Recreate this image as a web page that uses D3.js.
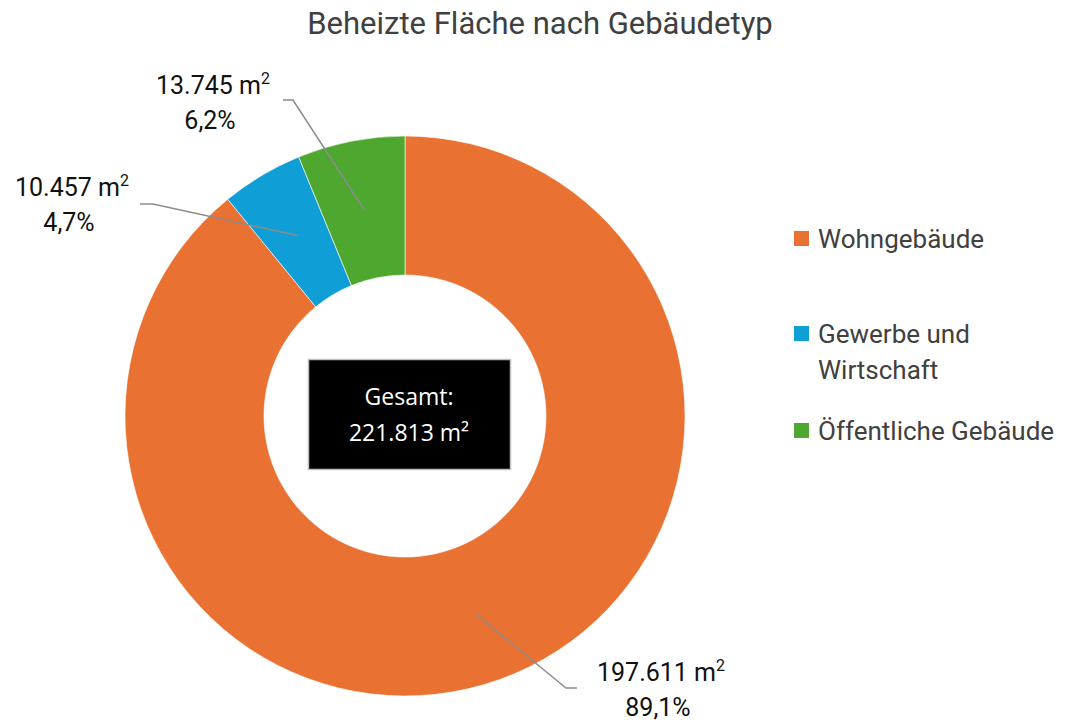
<!DOCTYPE html>
<head>
<meta charset="utf-8">
<script src="https://d3js.org/d3.v7.min.js"></script>
<style>
  body { margin: 0; background: #fff; }
  text { font-family: Roboto, "Liberation Sans", sans-serif; }
  text.title { font-size: 31px; fill: #404040; }
  text.dataLabel { font-size: 25px; fill: #111; }
  text.legend { font-size: 26px; fill: #404040; }
  text.total { font-family: "Open Sans", sans-serif; font-size: 23px; fill: #fff; }
</style>
</head>
<body>
<script>
// data
var categories = ['Wohngebäude', 'Gewerbe und Wirtschaft', 'Öffentliche Gebäude'];
var legendLines = [['Wohngebäude'], ['Gewerbe und', 'Wirtschaft'], ['Öffentliche Gebäude']];
var values = [197611, 10457, 13745];
var colours = ['#E97132', '#0F9ED5', '#4EA72E'];
var totalLabel = 'Gesamt:';

var width = 1072, height = 726;
var cx = 405, cy = 416, outerR = 280, innerR = 141, leaderR = 210;

var svg = d3.select('body').append('svg')
  .attr('width', width)
  .attr('height', height);

svg.append('text')
  .attr('class', 'title')
  .attr('x', 540)
  .attr('y', 34)
  .style('text-anchor', 'middle')
  .text('Beheizte Fläche nach Gebäudetyp');

var total = d3.sum(values);
var data = categories.map((c, i) => ({ name: c, value: values[i], colour: colours[i] }));

var pie = d3.pie().sort(null).value(d => d.value);
var arc = d3.arc().innerRadius(innerR).outerRadius(outerR);
var leaderArc = d3.arc().innerRadius(leaderR).outerRadius(leaderR);
var arcs = pie(data);

var g = svg.append('g').attr('transform', `translate(${cx},${cy})`);

g.selectAll('path.slice')
  .data(arcs)
  .enter()
  .append('path')
  .attr('class', 'slice')
  .attr('d', arc)
  .style('fill', d => d.data.colour)
  .style('stroke', '#fff')
  .style('stroke-width', 0.6);

var fmtNum = d3.formatLocale({ decimal: ',', thousands: '.', grouping: [3], currency: ['', '€'] });
var fmtInt = fmtNum.format(',.0f');
var fmtPct = fmtNum.format('.1%');

// where each data label sits and where its leader line bends
var labelPos = [
  { elbow: [566, 688], end: [577, 688], lx: 661, ly: 681 },
  { elbow: [153, 204], end: [140, 204], lx: 72, ly: 196 },
  { elbow: [293, 100], end: [283, 100], lx: 213, ly: 94 }
];

arcs.forEach((a, i) => {
  var p = labelPos[i];
  var c = leaderArc.centroid(a);
  svg.append('path')
    .attr('d', d3.line()([[cx + c[0], cy + c[1]], p.elbow, p.end]))
    .style('fill', 'none')
    .style('stroke', '#8c8c8c')
    .style('stroke-width', 1.5);

  var t = svg.append('text')
    .attr('class', 'dataLabel')
    .attr('x', p.lx)
    .attr('y', p.ly)
    .style('text-anchor', 'middle');
  t.append('tspan').text(fmtInt(a.data.value) + ' m');
  t.append('tspan').attr('dy', -10).style('font-size', '16px').text('2');
  svg.append('text')
    .attr('class', 'dataLabel')
    .attr('x', p.lx - 3)
    .attr('y', p.ly + 35)
    .style('text-anchor', 'middle')
    .text(fmtPct(a.data.value / total));
});

// centre box
svg.append('rect')
  .attr('x', 308.5)
  .attr('y', 359.5)
  .attr('width', 202)
  .attr('height', 110)
  .style('fill', '#000')
  .style('stroke', '#bfbfbf')
  .style('stroke-width', 1.5);

svg.append('text')
  .attr('class', 'total')
  .attr('x', 409)
  .attr('y', 405)
  .style('text-anchor', 'middle')
  .text(totalLabel);
svg.append('text')
  .attr('class', 'total')
  .attr('x', 409)
  .attr('y', 441)
  .style('text-anchor', 'middle')
  .text(fmtInt(total) + ' m²');

// legend
var legendY = [248, 343, 440];
var legend = svg.selectAll('g.legendItem')
  .data(data)
  .enter()
  .append('g')
  .attr('class', 'legendItem')
  .attr('transform', (d, i) => `translate(794, ${legendY[i]})`);

legend.append('rect')
  .attr('x', 0)
  .attr('y', -17)
  .attr('width', 15)
  .attr('height', 15)
  .style('fill', d => d.colour);

legend.each(function(d, i) {
  var t = d3.select(this).append('text').attr('class', 'legend').attr('x', 24).attr('y', 0);
  legendLines[i].forEach((line, j) => {
    t.append('tspan').attr('x', 24).attr('dy', j === 0 ? 0 : 36).text(line);
  });
});
</script>
</body>
